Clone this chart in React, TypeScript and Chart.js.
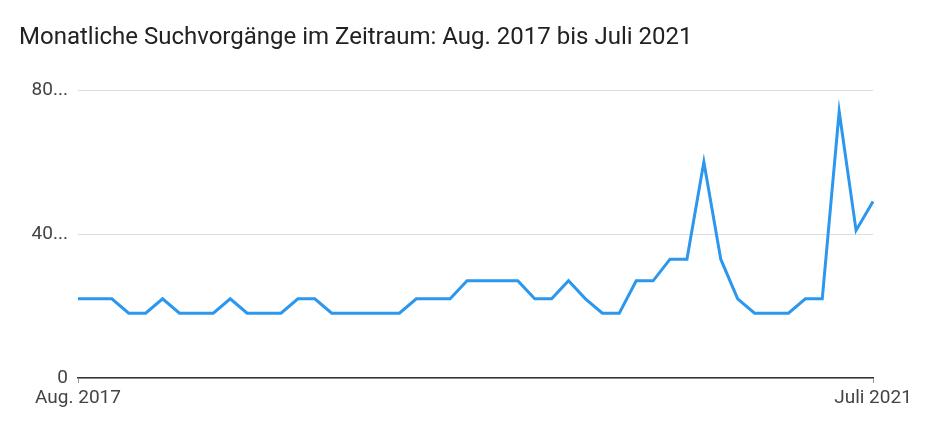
import { useEffect, useRef } from 'react'
import Chart from 'chart.js/auto'

const TITLE = 'Monatliche Suchvorgänge im Zeitraum: Aug. 2017 bis Juli 2021'

// Aug. 2017 .. Juli 2021, one entry per month
const months: string[] = [
  'Aug. 2017', 'Sep. 2017', 'Okt. 2017', 'Nov. 2017', 'Dez. 2017',
  'Jan. 2018', 'Feb. 2018', 'März 2018', 'Apr. 2018', 'Mai 2018', 'Juni 2018', 'Juli 2018',
  'Aug. 2018', 'Sep. 2018', 'Okt. 2018', 'Nov. 2018', 'Dez. 2018',
  'Jan. 2019', 'Feb. 2019', 'März 2019', 'Apr. 2019', 'Mai 2019', 'Juni 2019', 'Juli 2019',
  'Aug. 2019', 'Sep. 2019', 'Okt. 2019', 'Nov. 2019', 'Dez. 2019',
  'Jan. 2020', 'Feb. 2020', 'März 2020', 'Apr. 2020', 'Mai 2020', 'Juni 2020', 'Juli 2020',
  'Aug. 2020', 'Sep. 2020', 'Okt. 2020', 'Nov. 2020', 'Dez. 2020',
  'Jan. 2021', 'Feb. 2021', 'März 2021', 'Apr. 2021', 'Mai 2021', 'Juni 2021', 'Juli 2021'
]

const searches: number[] = [
  22, 22, 22, 18, 18, 22, 18, 18, 18, 22, 18, 18,
  18, 22, 22, 18, 18, 18, 18, 18, 22, 22, 22, 27,
  27, 27, 27, 22, 22, 27, 22, 18, 18, 27, 27, 33,
  33, 60, 33, 22, 18, 18, 18, 22, 22, 74, 41, 49
]

const yTicks: number[] = [0, 40, 80]

const App = () => {
  const canvasRef = useRef<HTMLCanvasElement>(null)
  const chartRef = useRef<Chart | null>(null)

  useEffect(() => {
    if (!canvasRef.current) return
    if (chartRef.current) chartRef.current.destroy()

    const last = months.length - 1

    chartRef.current = new Chart(canvasRef.current, {
      type: 'line',
      data: {
        labels: months,
        datasets: [
          {
            label: 'Suchvorgänge',
            data: searches,
            borderColor: '#2b97ee',
            borderWidth: 3,
            pointRadius: 0,
            tension: 0,
            fill: false
          }
        ]
      },
      options: {
        animation: false,
        responsive: false,
        layout: { padding: { top: 90, right: 68, left: 0, bottom: 0 } },
        plugins: {
          legend: { display: false },
          tooltip: { enabled: false },
          title: { display: false }
        },
        scales: {
          x: {
            type: 'category',
            afterFit: (scale: any) => { scale.height = 51 },
            border: { display: true, color: '#333333', width: 1.5 },
            grid: {
              drawOnChartArea: false,
              drawTicks: true,
              tickLength: 5,
              color: (ctx: any) => (ctx.index === 0 || ctx.index === last ? '#999999' : 'rgba(0,0,0,0)')
            },
            ticks: {
              autoSkip: false,
              maxRotation: 0,
              padding: 4,
              color: '#444444',
              font: { family: 'Roboto', size: 19 },
              callback: (_v: any, i: number) => (i === 0 || i === last ? months[i] : '')
            }
          },
          y: {
            min: yTicks[0],
            max: yTicks[yTicks.length - 1],
            afterFit: (scale: any) => { scale.width = 78 },
            afterBuildTicks: (scale: any) => { scale.ticks = yTicks.map(v => ({ value: v })) },
            border: { display: false },
            grid: { color: '#dddddd', lineWidth: 1, drawTicks: false },
            ticks: {
              padding: 10,
              color: '#444444',
              font: { family: 'Roboto', size: 19 },
              callback: (v: any) => (v === 0 ? '0' : v + '...')
            }
          }
        }
      }
    })

    return () => {
      if (chartRef.current) {
        chartRef.current.destroy()
        chartRef.current = null
      }
    }
  }, [])

  return (
    <div style={{ position: 'fixed', left: 0, top: 0, width: 941, height: 429, background: '#ffffff' }}>
      <div
        style={{
          position: 'absolute',
          left: 19,
          top: 22,
          fontFamily: 'Roboto',
          fontSize: 24,
          color: '#222222',
          whiteSpace: 'nowrap'
        }}
      >
        {TITLE}
      </div>
      <canvas ref={canvasRef} width={941} height={429} style={{ display: 'block' }}></canvas>
    </div>
  )
}

export default App
